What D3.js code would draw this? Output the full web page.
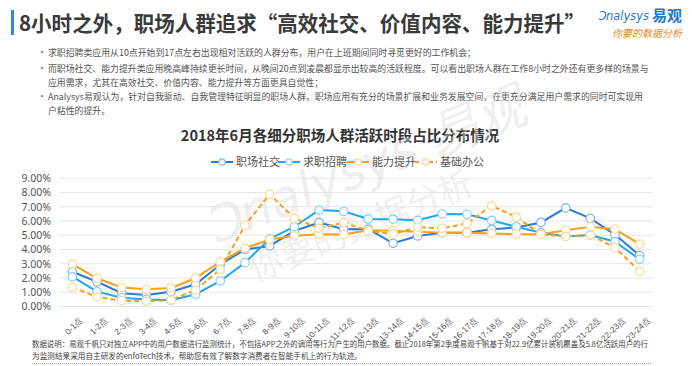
<!DOCTYPE html>
<html><head><meta charset="utf-8">
<script src="https://cdn.jsdelivr.net/npm/d3@7/dist/d3.min.js"></script>
<style>
body{margin:0;background:#fff;font-family:"Noto Sans CJK SC","Microsoft YaHei",sans-serif;}
svg{display:block}
</style></head><body>
<svg id="c" width="692" height="366"></svg>
<script>
const categories = ["0-1点","1-2点","2-3点","3-4点","4-5点","5-6点","6-7点","7-8点","8-9点","9-10点","10-11点","11-12点","12-13点","13-14点","14-15点","15-16点","16-17点","17-18点","18-19点","19-20点","20-21点","21-22点","22-23点","23-24点"];
const seriesNames = ["职场社交","求职招聘","能力提升","基础办公"];
const social   = [2.44,1.74,0.93,0.81,1.04,1.56,2.95,4.00,4.25,5.30,5.90,5.42,5.44,4.44,4.95,5.18,5.18,5.42,5.55,5.90,6.92,6.19,5.05,3.58];
const jobs     = [2.09,1.04,0.62,0.50,0.44,0.86,1.79,3.08,4.75,5.60,6.77,6.68,6.14,6.13,6.05,6.50,6.47,6.04,5.60,5.18,4.92,5.02,4.55,3.31];
const ability  = [2.98,1.98,1.33,1.21,1.30,2.00,3.15,4.09,4.70,4.96,5.08,5.05,5.35,5.32,5.25,5.18,5.18,5.12,5.08,5.07,5.35,5.59,5.43,4.38];
const office   = [1.35,0.67,0.41,0.36,0.46,1.16,2.60,5.70,7.88,6.20,5.49,5.89,5.32,5.08,5.57,5.49,5.84,7.07,6.28,5.07,4.92,5.02,4.13,2.47];
const yTicks = [0,1,2,3,4,5,6,7,8,9];
const bullets = [
  ["求职招聘类应用从10点开始到17点左右出现相对活跃的人群分布，用户在上班期间同时寻觅更好的工作机会；"],
  ["而职场社交、能力提升类应用晚高峰持续更长时间，从晚间20点到凌晨都显示出较高的活跃程度。可以看出职场人群在工作8小时之外还有更多样的场景与","应用需求，尤其在高效社交、价值内容、能力提升等方面更具自觉性；"],
  ["Analysys易观认为，针对自我驱动、自我管理特征明显的职场人群，职场应用有充分的场景扩展和业务发展空间，在更充分满足用户需求的同时可实现用","户粘性的提升。"]
];
const footer = ["数据说明：易观千帆只对独立APP中的用户数据进行监测统计，不包括APP之外的调用等行为产生的用户数据。截止2018年第2季度易观千帆基于对22.9亿累计装机覆盖及5.8亿活跃用户的行","为监测结果采用自主研发的enfoTech技术，帮助您有效了解数字消费者在智能手机上的行为轨迹。"];

const series = [
  {name:seriesNames[0], values:social,  color:"#2b7bd0", mk:"#8ab8e6", dash:null},
  {name:seriesNames[1], values:jobs,    color:"#21a8ec", mk:"#8fd0f3", dash:null},
  {name:seriesNames[2], values:ability, color:"#f7a01c", mk:"#fdd99a", dash:null},
  {name:seriesNames[3], values:office,  color:"#f7a01c", mk:"#fdd99a", dash:"5,3"}
];

const svg = d3.select("#c");
// header
svg.append("rect").attr("x",11).attr("y",10).attr("width",3).attr("height",25).attr("fill","#2e8ad8");
svg.append("text").attr("x",19).attr("y",31).attr("font-size",21).attr("font-weight","bold").attr("fill","#3a3a3a")
  .attr("textLength",566).attr("lengthAdjust","spacingAndGlyphs")
  .text("8小时之外，职场人群追求“高效社交、价值内容、能力提升”");
svg.append("text").attr("x",598).attr("y",20).attr("font-size",11.5).attr("font-style","italic").attr("fill","#1f78c8")
  .attr("font-family","Verdana,DejaVu Sans,sans-serif").attr("textLength",51).attr("lengthAdjust","spacingAndGlyphs").text("Ͻnalysys");
svg.append("text").attr("x",652).attr("y",21).attr("font-size",15).attr("font-weight","bold").attr("fill","#1f78c8").text("易观");
svg.append("text").attr("x",612).attr("y",37).attr("font-size",10).attr("font-style","italic").attr("fill","#e58a1f").text("你要的数据分析");

// bullets
let by = [56, 72, 100];
bullets.forEach((b,i)=>{
  svg.append("text").attr("x",37).attr("y",by[i]).attr("font-size",10).attr("fill","#777").text("•");
  b.forEach((ln,j)=>{
    svg.append("text").attr("x",48).attr("y",by[i]+j*14).attr("font-size",8.9).attr("fill","#555").text(ln);
  });
});

// chart title
svg.append("text").attr("x",340).attr("y",141).attr("text-anchor","middle").attr("font-size",14.5).attr("font-weight","bold").attr("fill","#333")
  .text("2018年6月各细分职场人群活跃时段占比分布情况");

const x = d3.scaleBand().domain(categories).range([60,652]);
const y = d3.scaleLinear().domain([0,9]).range([306.5,178.3]);
const cx = d=>x(d)+x.bandwidth()/2;

// watermark
const wm = svg.append("g").attr("opacity",0.45);
wm.append("text").attr("transform","translate(215,245) rotate(-22)").attr("font-size",50).attr("font-style","italic")
  .attr("fill","#dcdcdc").attr("font-family","Verdana,DejaVu Sans,sans-serif").text("Ͻnalysys 易观");
wm.append("text").attr("transform","translate(255,282) rotate(-22)").attr("font-size",34).attr("fill","#e0e0e0").text("你要的数据分析");

// grid
svg.append("g").selectAll("line").data(yTicks).join("line")
  .attr("x1",60).attr("x2",652).attr("y1",d=>y(d)).attr("y2",d=>y(d))
  .attr("stroke","#e6e6e6").attr("stroke-width",1);
// y axis
const ya = svg.append("g").attr("transform","translate(54,0)")
  .call(d3.axisLeft(y).tickValues(yTicks).tickSize(0).tickFormat(d=>d3.format(".2f")(d)+"%"));
ya.select(".domain").remove();
ya.selectAll("text").attr("font-size",10.5).attr("fill","#555").attr("font-family","Noto Sans,sans-serif");
// x axis
const xa = svg.append("g").attr("transform","translate(0,310)").call(d3.axisBottom(x).tickSize(0));
xa.select(".domain").remove();
xa.selectAll("text").attr("font-size",8.5).attr("fill","#555").attr("text-anchor","end")
  .attr("transform","translate(7,6) rotate(-45)").attr("dy","0.35em");

// lines
const line = d3.line().x((d,i)=>cx(categories[i])).y(d=>y(d));
series.forEach(s=>{
  svg.append("path").attr("d",line(s.values)).attr("fill","none").attr("stroke",s.color)
    .attr("stroke-width",2).attr("stroke-dasharray",s.dash);
});
series.forEach(s=>{
  svg.append("g").selectAll("circle").data(s.values).join("circle")
    .attr("cx",(d,i)=>cx(categories[i])).attr("cy",d=>y(d)).attr("r",4.2)
    .attr("fill","#fff").attr("stroke",s.mk).attr("stroke-width",1.3);
});

// legend
const lx = [211,278,347,415];
series.forEach((s,i)=>{
  const g = svg.append("g").attr("transform",`translate(${lx[i]},162)`);
  g.append("line").attr("x1",0).attr("x2",22).attr("y1",0).attr("y2",0).attr("stroke",s.color).attr("stroke-width",2).attr("stroke-dasharray",s.dash?"4,3":null);
  g.append("circle").attr("cx",11).attr("cy",0).attr("r",3.2).attr("fill","#fff").attr("stroke",s.mk).attr("stroke-width",1.2);
  g.append("text").attr("x",25).attr("y",4).attr("font-size",11).attr("fill","#555").text(s.name);
});

// footer
const fl = [616, 330];
footer.forEach((t,i)=>{
  svg.append("text").attr("x",32).attr("y",347+i*12).attr("font-size",7.5).attr("fill","#444")
    .attr("textLength",fl[i]).attr("lengthAdjust","spacingAndGlyphs").text(t);
});
svg.append("line").attr("x1",32).attr("x2",652).attr("y1",363.5).attr("y2",363.5).attr("stroke","#aaa").attr("stroke-dasharray","1,1");
</script></body></html>
